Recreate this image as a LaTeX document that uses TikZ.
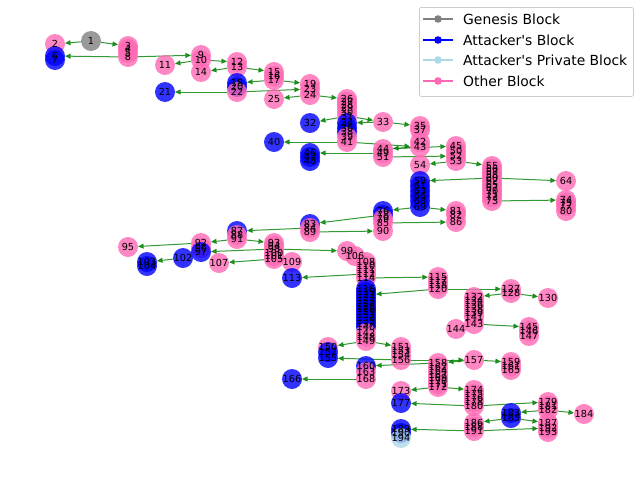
\documentclass[tikz,border=0pt]{standalone}
\usepackage{fontspec}
\setmainfont{DejaVu Sans}
\usetikzlibrary{arrows.meta,backgrounds}
\definecolor{pinkc}{HTML}{FF69B4}
\definecolor{bluec}{HTML}{0000FF}
\definecolor{grayc}{HTML}{808080}
\definecolor{lbluec}{HTML}{ADD8E6}
\definecolor{edgec}{HTML}{008000}
\definecolor{framec}{HTML}{CCCCCC}
\tikzset{
  blk/.style={circle, inner sep=0pt, outer sep=0pt, minimum size=20pt, fill opacity=0.8, draw=none},
  lbl/.style={inner sep=0pt, font=\fontsize{9.7}{10}\selectfont, text=black},
  link/.style={draw=edgec, opacity=0.8, line width=1pt, -{Triangle[length=5.6pt,width=5pt]}},
  legline/.style={line width=2pt},
  legtext/.style={anchor=base west, inner sep=0pt, font=\fontsize{13.9}{16}\selectfont},
}
\begin{document}
\begin{tikzpicture}[x=1pt,y=-1pt]
\useasboundingbox (0,0) rectangle (640,480);
% blocks, drawn in id order so later blocks lie on top
\foreach \i/\x/\y/\c in {
 1/91/41/grayc, 2/55/44/pinkc, 3/128/46/pinkc, 4/128/49/pinkc, 5/128/53/pinkc,
 6/55/56/bluec, 7/55/60/bluec, 8/128/57/pinkc, 9/201/55/pinkc, 10/201/60/pinkc,
 11/165/65/pinkc, 12/237/62/pinkc, 13/237/67/pinkc, 14/201/72/pinkc, 15/274/72/pinkc,
 16/274/76/pinkc, 17/274/80/pinkc, 18/237/83/bluec, 19/310/84/pinkc, 20/237/87/bluec,
 21/165/92/bluec, 22/237/92/pinkc, 23/310/89/pinkc, 24/310/95/pinkc, 25/274/99/pinkc,
 26/347/99/pinkc, 27/347/102/pinkc, 28/347/105/pinkc, 29/347/108/pinkc, 30/347/112/pinkc,
 31/347/116/pinkc, 32/310/123/bluec, 33/383/122/pinkc, 34/347/123/bluec, 35/420/126/pinkc,
 36/347/128/bluec, 37/420/130/pinkc, 38/347/132/bluec, 39/347/137/pinkc, 40/274/142/bluec,
 41/347/142/pinkc, 42/420/142/pinkc, 43/420/147/pinkc, 44/383/149/pinkc, 45/456/146/pinkc,
 46/310/153/bluec, 47/310/157/bluec, 48/310/161/bluec, 49/383/153/pinkc, 50/456/151/pinkc,
 51/383/157/pinkc, 52/456/156/pinkc, 53/456/161/pinkc, 54/420/165/pinkc, 55/492/166/pinkc,
 56/492/169/pinkc, 57/492/172/pinkc, 58/492/175/pinkc, 59/420/181/bluec, 60/492/178/pinkc,
 61/420/186/bluec, 62/492/181/pinkc, 63/420/191/bluec, 64/566/181/pinkc, 65/492/185/pinkc,
 66/420/196/bluec, 67/492/188/pinkc, 68/420/201/bluec, 69/420/207/bluec, 70/492/191/pinkc,
 71/492/194/pinkc, 72/492/197/pinkc, 73/492/201/pinkc, 74/566/200/pinkc, 75/566/203/pinkc,
 76/383/211/bluec, 77/566/206/pinkc, 78/383/215/bluec, 79/383/219/pinkc, 80/566/211/pinkc,
 81/456/211/pinkc, 82/456/215/pinkc, 83/310/224/bluec, 84/310/228/pinkc, 85/383/223/pinkc,
 86/456/222/pinkc, 87/237/231/bluec, 88/237/235/pinkc, 89/310/232/pinkc, 90/383/231/pinkc,
 91/237/239/pinkc, 92/201/243/pinkc, 93/274/243/pinkc, 94/274/246/pinkc, 95/128/247/pinkc,
 96/201/248/pinkc, 97/201/252/bluec, 98/274/249/pinkc, 99/347/251/pinkc, 100/274/253/pinkc,
 101/274/256/pinkc, 102/183/258/bluec, 103/147/262/bluec, 104/147/266/bluec, 105/274/259/pinkc,
 106/355/256/pinkc, 107/219/263/pinkc, 108/366/262/pinkc, 109/292/262/pinkc, 110/366/266/pinkc,
 111/366/270/pinkc, 112/366/274/pinkc, 113/292/278/bluec, 114/366/278/pinkc, 115/438/277/pinkc,
 116/366/289/bluec, 117/438/281/pinkc, 118/438/285/pinkc, 119/366/292/bluec, 120/438/289/pinkc,
 121/366/295/bluec, 122/366/298/bluec, 123/366/301/bluec, 124/366/304/bluec, 125/366/307/bluec,
 126/366/309/bluec, 127/511/289/pinkc, 128/511/293/pinkc, 129/366/312/bluec, 130/548/298/pinkc,
 131/366/315/bluec, 132/474/297/pinkc, 133/366/318/bluec, 134/474/301/pinkc, 135/366/321/bluec,
 136/474/305/pinkc, 137/366/324/bluec, 138/474/309/pinkc, 139/474/313/pinkc, 140/366/327/bluec,
 141/474/317/pinkc, 142/366/333/pinkc, 143/474/324/pinkc, 144/456/329/pinkc, 145/529/327/pinkc,
 146/529/331/pinkc, 147/529/336/pinkc, 148/366/337/pinkc, 149/366/341/pinkc, 150/328/347/pinkc,
 151/401/347/pinkc, 152/328/352/bluec, 153/401/351/pinkc, 154/401/355/pinkc, 155/328/358/bluec,
 156/401/360/pinkc, 157/474/360/pinkc, 158/438/363/pinkc, 159/511/362/pinkc, 160/366/366/bluec,
 161/511/366/pinkc, 162/438/367/pinkc, 163/366/372/pinkc, 164/438/371/pinkc, 165/511/370/pinkc,
 166/292/379/bluec, 167/438/375/pinkc, 168/366/379/pinkc, 169/438/378/pinkc, 170/438/381/pinkc,
 171/438/384/pinkc, 172/438/387/pinkc, 173/401/391/pinkc, 174/474/390/pinkc, 175/474/394/pinkc,
 176/474/398/pinkc, 177/401/403/bluec, 178/474/402/pinkc, 179/548/402/pinkc, 180/474/406/pinkc,
 181/548/406/pinkc, 182/548/410/pinkc, 183/511/413/bluec, 184/584/414/pinkc, 185/511/418/bluec,
 186/474/423/pinkc, 187/548/423/pinkc, 188/474/427/pinkc, 189/401/429/bluec, 190/401/433/bluec,
 191/474/431/pinkc, 192/548/428/pinkc, 193/548/432/pinkc, 194/401/438/lbluec}
 {\node[blk, fill=\c] (n\i) at (\x,\y) {};}
% block labels above all discs
\foreach \i in {1,...,194} {\node[lbl] (t\i) at (n\i.center) {\i};}
% parent-to-child links, kept under the discs
\begin{scope}[on background layer]
\foreach \a/\b in {1/2, 1/3, 8/6, 8/9, 10/11, 10/12, 13/14, 13/15, 17/18, 17/19,
 22/21, 22/23, 24/25, 24/26, 31/32, 31/33, 33/34, 33/35, 41/40, 41/43, 43/44, 44/45,
 51/52, 49/46, 53/54, 53/55, 60/59, 60/64, 73/74, 69/76, 69/81, 85/86, 78/83, 89/90,
 84/87, 91/92, 91/93, 92/95, 98/97, 98/99, 105/107, 102/103, 112/113, 114/115,
 120/121, 120/127, 128/132, 128/130, 143/145, 149/150, 149/151, 156/155, 156/157,
 157/158, 157/159, 158/160, 168/166, 172/173, 172/174, 180/177, 180/179, 182/183,
 182/184, 185/186, 185/187, 191/189, 191/192}
 {\draw[link] (n\a) -- (n\b);}
\end{scope}
% legend
\node[draw=framec, fill=white, fill opacity=0.8, rounded corners=2pt, line width=0.8pt,
      minimum width=214pt, minimum height=89pt, anchor=north west, inner sep=0pt] (legend) at (419,7) {};
\foreach \k/\y/\c/\t in {1/19/grayc/Genesis Block, 2/40/bluec/Attacker\textquotesingle s Block,
 3/60/lbluec/Attacker\textquotesingle s Private Block, 4/81/pinkc/Other Block}
{
  \coordinate (la\k) at (423,\y);
  \coordinate (lb\k) at (453,\y);
  \draw[legline, draw=\c] (la\k) -- (lb\k);
  \fill[\c] (438,\y) circle (3.8pt);
  \node[legtext] (lt\k) at (463,\y+5) {\t};
}
\end{tikzpicture}
\end{document}
